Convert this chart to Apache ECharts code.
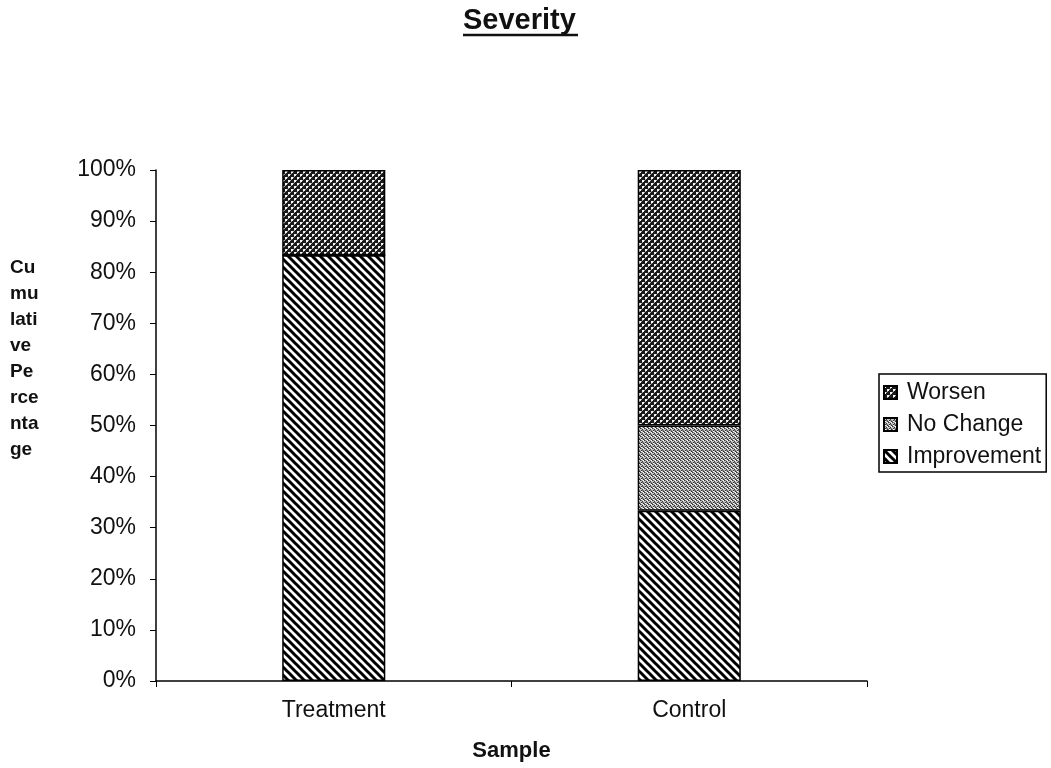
<!DOCTYPE html>
<html>
<head>
<meta charset="utf-8">
<script src="https://cdn.jsdelivr.net/npm/echarts@6/dist/echarts.min.js"></script>
<style>
html,body{margin:0;padding:0;background:#fff;}
#chart{width:1051px;height:768px;}
</style>
</head>
<body>
<div id="chart"></div>
<script>
// ---- data ----
var categories = ['Treatment', 'Control'];
var improvement = [83.3, 33.3];
var noChange = [0, 16.7];
var worsen = [16.7, 50.0];
var yTicks = [0, 10, 20, 30, 40, 50, 60, 70, 80, 90, 100];

// ---- pattern textures ----
function makeCanvas(w, h, draw) {
  var c = document.createElement('canvas');
  c.width = w; c.height = h;
  var ctx = c.getContext('2d');
  draw(ctx, w, h);
  return c;
}
// diagonal "\" stripes
var stripeCanvas = makeCanvas(8, 8, function (ctx, w, h) {
  ctx.fillStyle = '#fff'; ctx.fillRect(0, 0, w, h);
  ctx.strokeStyle = '#000'; ctx.lineWidth = 3;
  for (var k = -2; k <= 2; k++) {
    ctx.beginPath();
    ctx.moveTo(k * 8 - 2, -2);
    ctx.lineTo(k * 8 + 10, 10);
    ctx.stroke();
  }
});
// dark stipple (Worsen)
var darkCanvas = makeCanvas(6, 6, function (ctx, w, h) {
  ctx.fillStyle = '#1a1a1a'; ctx.fillRect(0, 0, w, h);
  ctx.fillStyle = '#f4f4f4';
  ctx.fillRect(0, 0, 2, 2);
  ctx.fillRect(3, 3, 2, 2);
  ctx.fillStyle = '#aaa';
  ctx.fillRect(2, 0, 1, 1);
  ctx.fillRect(5, 3, 1, 1);
  ctx.fillRect(0, 2, 1, 1);
  ctx.fillRect(3, 5, 1, 1);
});
// medium stipple (No Change)
var lightCanvas = makeCanvas(4, 4, function (ctx, w, h) {
  ctx.fillStyle = '#c8c8c8'; ctx.fillRect(0, 0, w, h);
  ctx.fillStyle = '#333';
  ctx.fillRect(0, 0, 1, 1);
  ctx.fillRect(2, 1, 1, 1);
  ctx.fillRect(1, 2, 1, 1);
  ctx.fillRect(3, 3, 1, 1);
  ctx.fillStyle = '#777';
  ctx.fillRect(1, 0, 1, 1);
  ctx.fillRect(3, 2, 1, 1);
  ctx.fillRect(0, 3, 1, 1);
  ctx.fillRect(2, 2, 1, 1);
  ctx.fillStyle = '#fff';
  ctx.fillRect(3, 0, 1, 1);
  ctx.fillRect(1, 3, 1, 1);
});

var font = 'Arial, "Liberation Sans", sans-serif';
var chart = echarts.init(document.getElementById('chart'));

function barSeries(name, data, img) {
  return {
    name: name,
    type: 'bar',
    stack: 'total',
    barWidth: '29%',
    data: data,
    itemStyle: {
      color: { image: img, repeat: 'repeat' },
      borderColor: '#000',
      borderWidth: 1.5
    },
    emphasis: { disabled: true }
  };
}

chart.setOption({
  backgroundColor: '#fff',
  animation: false,
  title: [{
    text: 'Severity',
    left: 463,
    top: 6,
    padding: 0,
    textStyle: { fontFamily: font, fontSize: 29, fontWeight: 'bold', color: '#111' }
  }, {
    text: 'Cu\nmu\nlati\nve\nPe\nrce\nnta\nge',
    left: 10,
    top: 255,
    padding: 0,
    textStyle: { fontFamily: font, fontSize: 19, fontWeight: 'bold', color: '#111', lineHeight: 26 }
  }],
  graphic: [{
    type: 'line',
    shape: { x1: 463, y1: 35, x2: 578, y2: 35 },
    style: { stroke: '#111', lineWidth: 2.5 }
  }],
  legend: {
    data: ['Worsen', 'No Change', 'Improvement'],
    orient: 'vertical',
    left: 879,
    top: 374,
    itemWidth: 13,
    itemHeight: 13,
    itemGap: 9,
    padding: [7, 5, 4, 4],
    borderColor: '#000',
    borderWidth: 1.5,
    icon: 'rect',
    textStyle: { fontFamily: font, fontSize: 23, color: '#111', padding: [0, 0, 0, 5] },
    selectedMode: false
  },
  grid: { left: 156, right: 184, top: 170, bottom: 87, containLabel: false, outerBoundsMode: 'none' },
  xAxis: {
    type: 'category',
    data: categories,
    name: 'Sample',
    nameLocation: 'middle',
    nameGap: 59,
    nameTextStyle: { fontFamily: font, fontSize: 22, fontWeight: 'bold', color: '#111' },
    axisLine: { lineStyle: { color: '#000', width: 1.5 } },
    axisTick: { show: true, length: 6, inside: false, lineStyle: { color: '#000' } },
    axisLabel: { fontFamily: font, fontSize: 23, color: '#111', margin: 18 }
  },
  yAxis: {
    type: 'value',
    min: 0,
    max: 100,
    interval: 10,
    axisLine: { show: true, lineStyle: { color: '#000', width: 1.5 } },
    axisTick: { show: true, length: 6, lineStyle: { color: '#000' } },
    splitLine: { show: false },
    axisLabel: {
      fontFamily: font, fontSize: 23, color: '#111', margin: 20,
      formatter: function (v) { return yTicks.indexOf(v) >= 0 ? v + '%' : ''; }
    }
  },
  series: [
    barSeries('Improvement', improvement, stripeCanvas),
    barSeries('No Change', noChange, lightCanvas),
    barSeries('Worsen', worsen, darkCanvas)
  ]
});
</script>
</body>
</html>
